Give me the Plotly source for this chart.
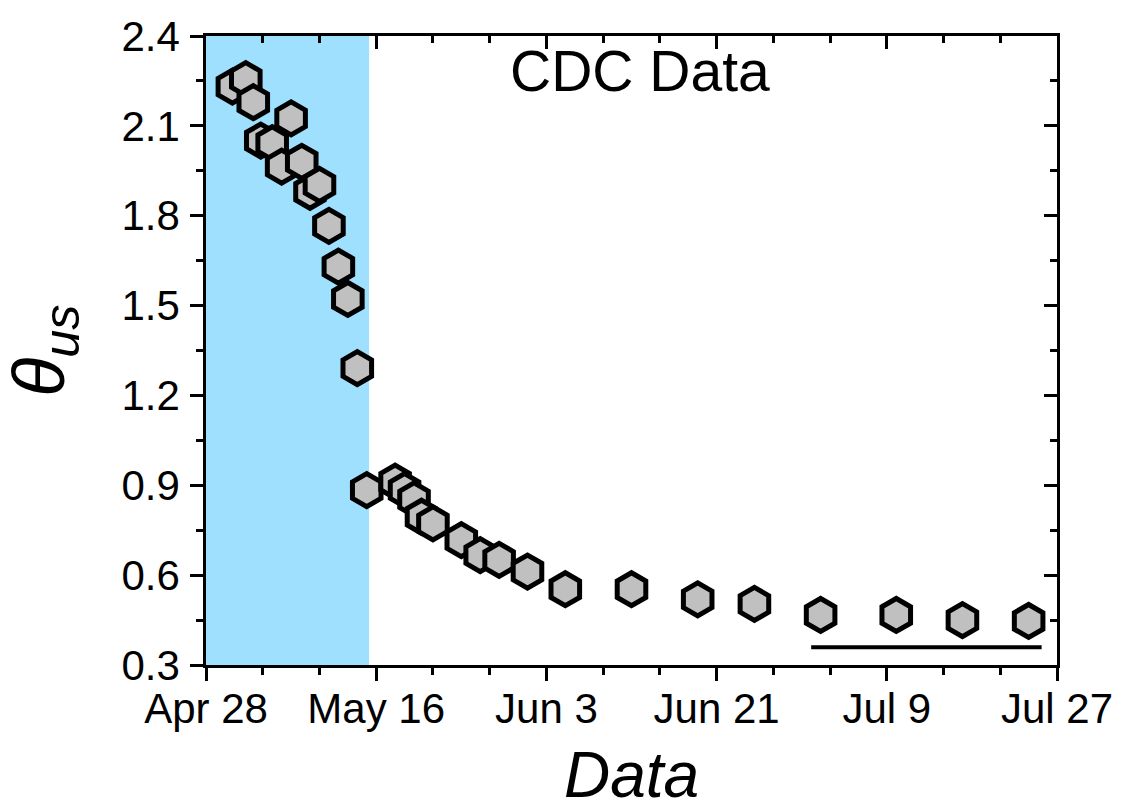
import plotly.graph_objects as go

# ---- data ----
dates = [
    "2020-04-30 19:00", "2020-05-02 05:00", "2020-05-03", "2020-05-03 19:00", "2020-05-05",
    "2020-05-06", "2020-05-07", "2020-05-08 03:00", "2020-05-09", "2020-05-10",
    "2020-05-11", "2020-05-12", "2020-05-13", "2020-05-14", "2020-05-15",
    "2020-05-18", "2020-05-19", "2020-05-20", "2020-05-20 19:00", "2020-05-22",
    "2020-05-25", "2020-05-27", "2020-05-29", "2020-06-01", "2020-06-05",
    "2020-06-12", "2020-06-19", "2020-06-25", "2020-07-02", "2020-07-10",
    "2020-07-17", "2020-07-24",
]
theta_us = [
    2.231, 2.256, 2.179, 2.051, 2.042,
    1.964, 2.125, 1.980, 1.880, 1.903,
    1.766, 1.630, 1.522, 1.291, 0.884,
    0.912, 0.884, 0.853, 0.795, 0.773,
    0.717, 0.667, 0.651, 0.612, 0.553,
    0.553, 0.519, 0.504, 0.467, 0.467,
    0.450, 0.447,
]
shade_start = "2020-04-28"
shade_end = "2020-05-15 06:00"
ref_line_x = ["2020-07-01", "2020-07-25 09:00"]
ref_line_y = [0.359, 0.359]

x_range = ["2020-04-28", "2020-07-27"]
y_range = [0.3, 2.4]
x_tickvals = ["2020-04-28", "2020-05-16", "2020-06-03", "2020-06-21", "2020-07-09", "2020-07-27"]
x_ticktext = ["Apr 28", "May 16", "Jun 3", "Jun 21", "Jul 9", "Jul 27"]
y_tickvals = [0.3, 0.6, 0.9, 1.2, 1.5, 1.8, 2.1, 2.4]
y_ticktext = ["0.3", "0.6", "0.9", "1.2", "1.5", "1.8", "2.1", "2.4"]

DAY_MS = 86400000
FONT = "Arial, Liberation Sans, sans-serif"

fig = go.Figure()

# reference line drawn on the mirrored (top/right) axes, which share the same ranges
fig.add_trace(go.Scatter(
    x=ref_line_x, y=ref_line_y, mode="lines", xaxis="x2", yaxis="y2",
    line=dict(color="black", width=4), showlegend=False, hoverinfo="skip",
))
fig.add_trace(go.Scatter(
    x=dates, y=theta_us, mode="markers",
    marker=dict(symbol="hexagon", size=33, color="#C0C0C0",
                line=dict(color="black", width=5)),
    showlegend=False,
))

fig.add_shape(type="rect", xref="x", yref="paper", x0=shade_start, x1=shade_end,
              y0=0, y1=1, fillcolor="#A0E0FF", line=dict(width=0), layer="below")

axis_common = dict(showgrid=False, zeroline=False, linecolor="black", linewidth=2.5,
                   tickcolor="black", tickwidth=2.5, ticklen=13, automargin=False)

fig.update_layout(
    width=1122, height=806,
    margin=dict(l=206, r=65, t=36, b=141),
    paper_bgcolor="white", plot_bgcolor="white",
    font=dict(family=FONT, color="black"),
    xaxis=dict(
        type="date", range=x_range, ticks="outside",
        tickvals=x_tickvals, ticktext=x_ticktext,
        tickfont=dict(size=42, family=FONT),
        ticklabelstandoff=-8, ticklabeloverflow="allow",
        minor=dict(ticks="outside", ticklen=7, tickwidth=2.5, tickcolor="black",
                   dtick=6 * DAY_MS, tick0="2020-04-28"),
        showline=True, **axis_common,
    ),
    yaxis=dict(
        range=y_range, ticks="outside",
        tickvals=y_tickvals, ticktext=y_ticktext,
        tickfont=dict(size=42, family=FONT),
        ticklabelstandoff=2, ticklabeloverflow="allow",
        minor=dict(ticks="outside", ticklen=7, tickwidth=2.5, tickcolor="black",
                   dtick=0.15, tick0=0.3),
        showline=True, **axis_common,
    ),
    xaxis2=dict(
        type="date", range=x_range, overlaying="x", side="top", ticks="inside",
        tickvals=x_tickvals, showticklabels=False,
        minor=dict(ticks="inside", ticklen=7, tickwidth=2.5, tickcolor="black",
                   dtick=6 * DAY_MS, tick0="2020-04-28"),
        showline=True, **axis_common,
    ),
    yaxis2=dict(
        range=y_range, overlaying="y", side="right", ticks="inside",
        tickvals=y_tickvals, showticklabels=False,
        minor=dict(ticks="inside", ticklen=7, tickwidth=2.5, tickcolor="black",
                   dtick=0.15, tick0=0.3),
        showline=True, **axis_common,
    ),
)

fig.add_annotation(text="CDC Data", xref="paper", yref="paper", x=0.51, y=0.944,
                   xanchor="center", yanchor="middle", showarrow=False,
                   font=dict(size=57, family=FONT, color="black"))
fig.add_annotation(text="<i>Data</i>", xref="paper", yref="paper", x=0.5, y=-0.175,
                   xanchor="center", yanchor="middle", showarrow=False,
                   font=dict(size=64, family=FONT, color="black"))
fig.add_annotation(text="<i>θ<sub>us</sub></i>", xref="paper", yref="paper", x=-0.19, y=0.5,
                   xanchor="center", yanchor="middle", showarrow=False, textangle=-90,
                   font=dict(size=72, family=FONT, color="black"))

fig.write_html("out.html", config={"displayModeBar": False},
               post_script="document.body.style.margin='0';")
